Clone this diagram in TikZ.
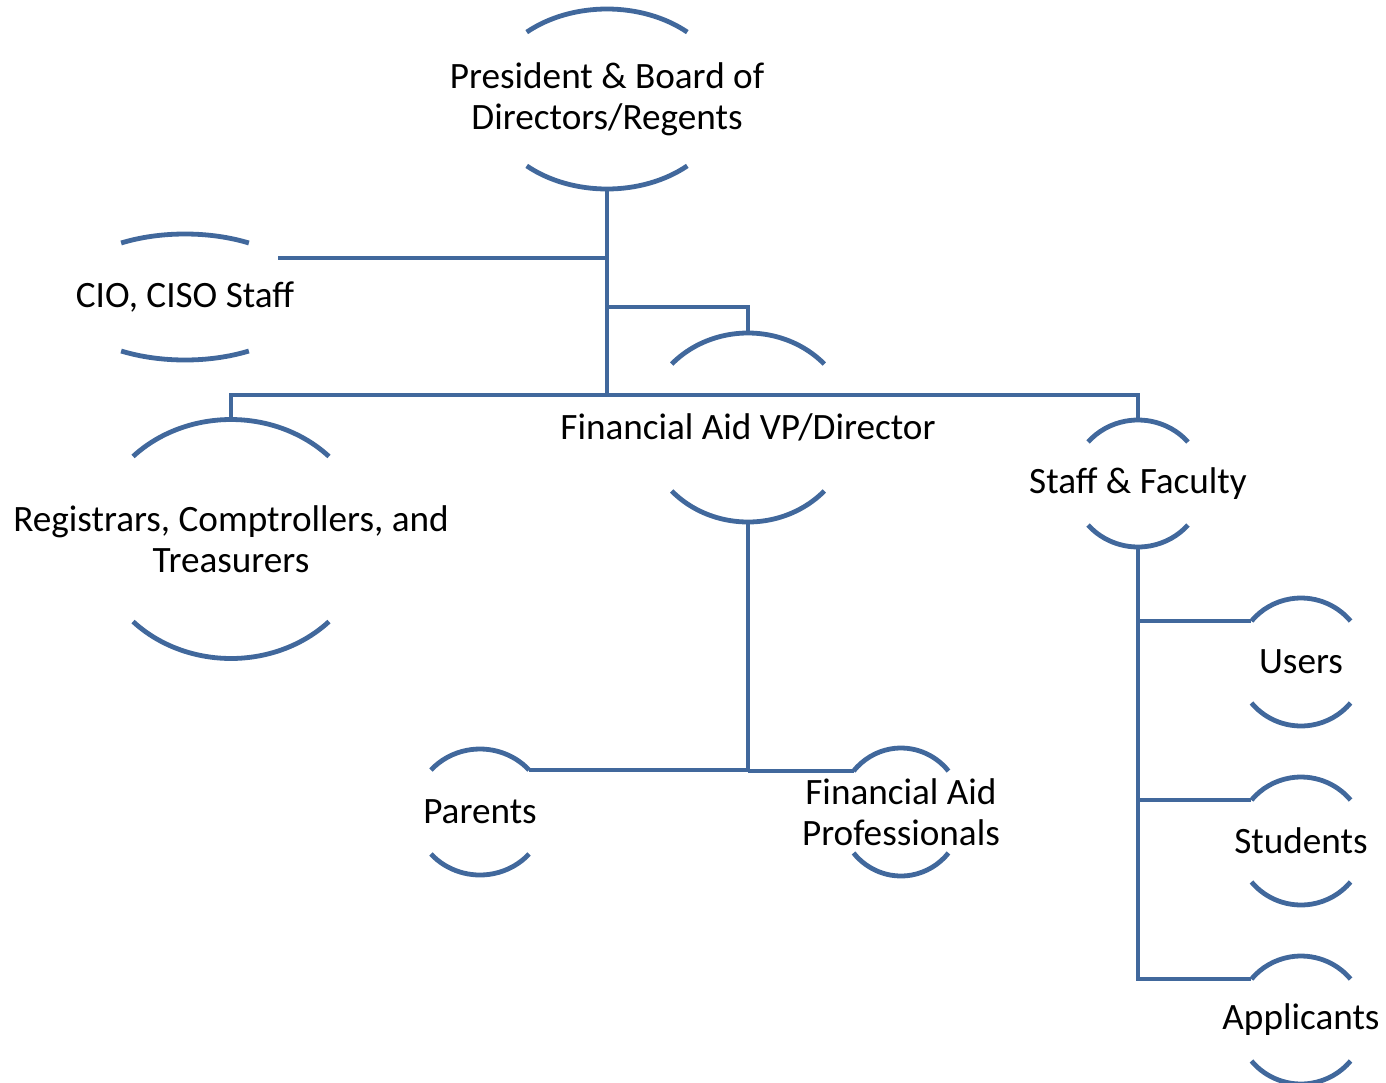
\documentclass[tikz,border=0pt]{standalone}
\usepackage{fontspec}
\setmainfont{Carlito}
\usetikzlibrary{calc}
\definecolor{orgblue}{RGB}{65,104,156}
\tikzset{
  lbl/.style={align=center,inner sep=0pt,font=\fontsize{37.2}{41}\selectfont},
  arcline/.style={draw=orgblue,line width=4.8pt},
  conn/.style={draw=orgblue,line width=4.8pt}
}
% name, cx, cy (pixels, downwards), rx, ry, angle, text
\newcommand{\bnode}[7]{%
  \node[lbl] (#1) at (#2,-#3) {#7};
  \coordinate (#1-t) at (#2,{-#3+#5});
  \coordinate (#1-b) at (#2,{-#3-#5});
  \coordinate (#1-tl) at ({#2-#4*cos(#6)},{-#3+#5*sin(#6)});
  \coordinate (#1-tr) at ({#2+#4*cos(#6)},{-#3+#5*sin(#6)});
  \coordinate (#1-bl) at ({#2-#4*cos(#6)},{-#3-#5*sin(#6)});
  \coordinate (#1-br) at ({#2+#4*cos(#6)},{-#3-#5*sin(#6)});
  \draw[arcline] (#1-tr) arc[start angle=#6, end angle={180-#6}, x radius=#4pt, y radius=#5pt];
  \draw[arcline] (#1-bl) arc[start angle={180+#6}, end angle={360-#6}, x radius=#4pt, y radius=#5pt];
}
\begin{document}
\begin{tikzpicture}[x=1pt,y=1pt]
\useasboundingbox (0,0) rectangle (1386,-1082);
\bnode{pres}{607}{99}{120}{90}{48}{President \& Board of\\Directors/Regents}
\bnode{cio}{185}{297}{124}{63}{59}{CIO, CISO Staff}
\bnode{fav}{748}{427.5}{103}{94.5}{42.2}{Financial Aid VP/Director}
\bnode{staff}{1138}{483.5}{66}{63.5}{40.8}{Staff \& Faculty}
\bnode{reg}{231}{539}{135.5}{119.5}{43.7}{Registrars, Comptrollers, and\\Treasurers}
\bnode{par}{480}{812}{65.8}{63}{41.8}{Parents}
\bnode{fap}{901}{812}{61.8}{64}{39.8}{Financial Aid\\Professionals}
\bnode{usr}{1301}{662}{64.5}{64}{39.8}{Users}
\bnode{stu}{1301}{841}{64.5}{64}{39.8}{Students}
\bnode{app}{1301}{1020}{64.5}{64}{39.8}{Applicants}

\coordinate (busy) at (0,-395);
\coordinate (cioend) at (278,-258);
\coordinate (favy) at (0,-307);

\draw[conn] (pres-b) -- (pres-b |- busy);
\draw[conn] (pres-b |- cioend) -- (cioend);
\draw[conn] (pres-b |- favy) -- (fav-t |- favy) -- (fav-t);
\draw[conn] (reg-t) -- (reg-t |- busy) -- (staff-t |- busy) -- (staff-t);
\draw[conn] (par-tr) -- (fav-b |- par-tr) -- (fav-b);
\draw[conn] (fav-b |- fap-tl) -- (fap-tl);
\draw[conn] (staff-b) -- (staff-b |- app-tl) -- (app-tl);
\draw[conn] (staff-b |- usr-tl) -- (usr-tl);
\draw[conn] (staff-b |- stu-tl) -- (stu-tl);
\end{tikzpicture}
\end{document}
